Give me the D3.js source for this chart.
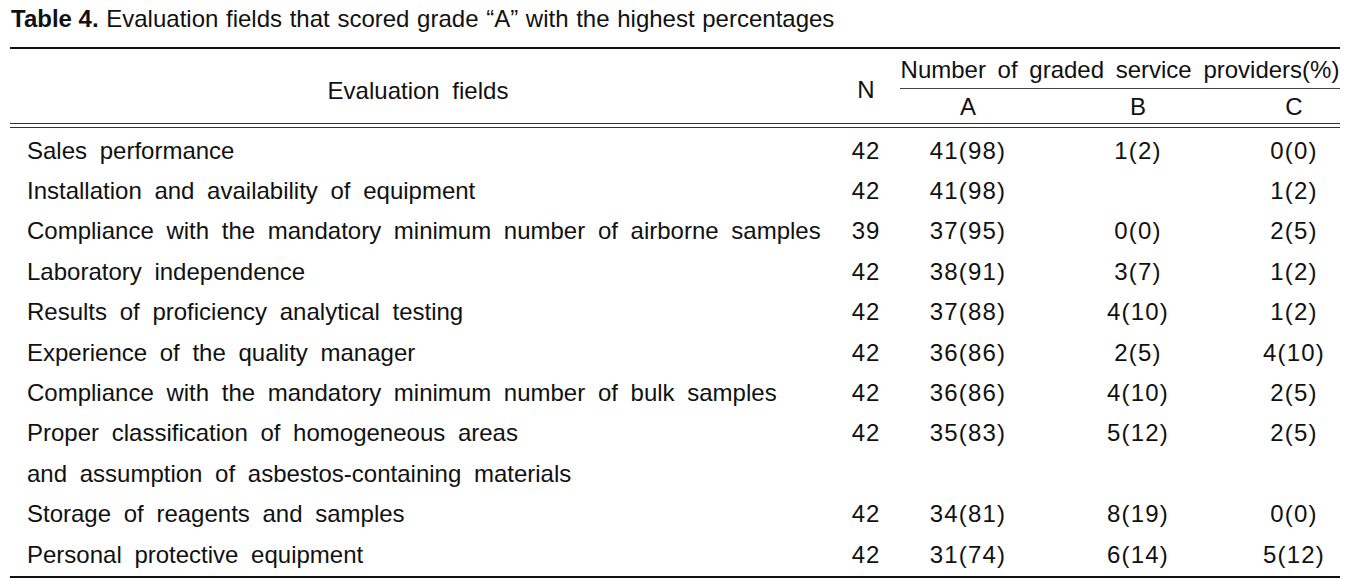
<!DOCTYPE html>
<html>
<head>
<meta charset="utf-8">
<script src="https://cdn.jsdelivr.net/npm/d3@7"></script>
<style>
  html, body { margin: 0; padding: 0; background: #fff; }
  text { font-family: "Liberation Sans", Arial, sans-serif; fill: #111; }
</style>
</head>
<body>
<svg id="chart" width="1360" height="579"></svg>
<script>
"use strict";

// table content
const titleLabel = 'Table 4.';
const titleText = 'Evaluation fields that scored grade \u201CA\u201D with the highest percentages';
const fieldHeader = 'Evaluation fields';
const nHeader = 'N';
const groupHeader = 'Number of graded service providers(%)';
const grades = ['A', 'B', 'C'];

const fields = [
  ['Sales performance'],
  ['Installation and availability of equipment'],
  ['Compliance with the mandatory minimum number of airborne samples'],
  ['Laboratory independence'],
  ['Results of proficiency analytical testing'],
  ['Experience of the quality manager'],
  ['Compliance with the mandatory minimum number of bulk samples'],
  ['Proper classification of homogeneous areas', 'and assumption of asbestos-containing materials'],
  ['Storage of reagents and samples'],
  ['Personal protective equipment'],
];
const nValues = [42, 42, 39, 42, 42, 42, 42, 42, 42, 42];
const gradeA = [[41, 98], [41, 98], [37, 95], [38, 91], [37, 88], [36, 86], [36, 86], [35, 83], [34, 81], [31, 74]];
const gradeB = [[1, 2], null, [0, 0], [3, 7], [4, 10], [2, 5], [4, 10], [5, 12], [8, 19], [6, 14]];
const gradeC = [[0, 0], [1, 2], [2, 5], [1, 2], [1, 2], [4, 10], [2, 5], [2, 5], [0, 0], [5, 12]];

const svg = d3.select('#chart');

let left = 10;
let right = 1340;
let fontSize = 24;

// one line index per text line (multi-line fields take several)
let lines = [];
fields.forEach((f, i) => f.forEach((t, j) => lines.push({ row: i, text: t, first: j === 0 })));

let y = d3.scaleLinear().domain([0, 1]).range([150, 190.4]);
let col = d3.scaleOrdinal().domain(['N'].concat(grades)).range([866, 968, 1138, 1294]);

// title
let title = svg.append('text')
  .attr('x', 11).attr('y', 27)
  .style('font-size', '24px');
title.append('tspan').style('font-weight', 'bold').text(titleLabel);
title.append('tspan').text(' ' + titleText).style('word-spacing', '1px');

// rules
const rule = (x1, x2, yy, w, c) => svg.append('line')
  .attr('x1', x1).attr('x2', x2).attr('y1', yy).attr('y2', yy)
  .attr('stroke', c || '#111').attr('stroke-width', w);

rule(left, right, 48, 2);
rule(900, right, 88.5, 1.2, '#444');
rule(left, right, 123.5, 1.2, '#333');
rule(left, right, 127.5, 1.2, '#333');
rule(left, right, 577, 2);

// header and body cells
const cell = (x, yy, t, anchor, ws, ls) => svg.append('text')
  .attr('x', x).attr('y', yy)
  .attr('dy', '0.36em')
  .attr('text-anchor', anchor || 'middle')
  .style('font-size', fontSize + 'px')
  .style('word-spacing', (ws || 0) + 'px')
  .style('letter-spacing', (ls || 0) + 'px')
  .text(t);

cell(418, 90, fieldHeader, 'middle', 6);
cell(col('N'), 89, nHeader);
cell(1120, 69, groupHeader, 'middle', 5);
grades.forEach(g => cell(col(g), 106, g));

// body
const fmt = v => v ? v[0] + '(' + v[1] + ')' : '';
let series = { A: gradeA, B: gradeB, C: gradeC };

lines.forEach((l, k) => {
  cell(27, y(k), l.text, 'start', 6);
  if (!l.first) return;
  cell(col('N'), y(k), nValues[l.row], 'middle', 0, 1);
  grades.forEach(g => cell(col(g), y(k), fmt(series[g][l.row]), 'middle', 0, 1.2));
});
</script>
</body>
</html>
